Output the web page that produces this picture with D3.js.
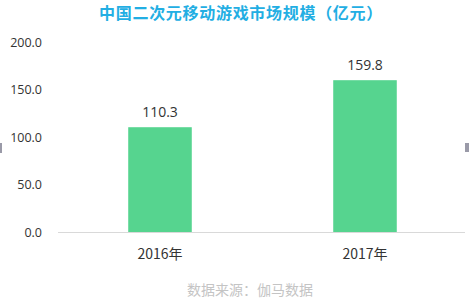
<!DOCTYPE html>
<html>
<head>
<meta charset="utf-8">
<script src="https://cdn.jsdelivr.net/npm/d3@7"></script>
<style>
  body { margin: 0; background: #fff; }
  text { font-family: "Noto Sans CJK SC", "Open Sans", sans-serif; }
</style>
</head>
<body>
<svg width="469" height="299"></svg>
<script>
const categories = ["2016年", "2017年"];
const values = [110.3, 159.8];
const yTicks = [0, 50, 100, 150, 200];

const svg = d3.select("svg");
const width = +svg.attr("width");

// scales
const x = d3.scaleBand()
    .domain(categories)
    .range([57.5, 467.5])
    .paddingInner(0.69)
    .paddingOuter(0.345);
const y = d3.scaleLinear().domain([0, 200]).range([232, 42]);

// title
svg.append("text")
    .attr("x", 241).attr("y", 19)
    .attr("text-anchor", "middle")
    .attr("font-size", 16).attr("font-weight", "bold")
    .attr("letter-spacing", 0.7)
    .attr("fill", "#22aee3")
    .text("中国二次元移动游戏市场规模（亿元）");

// y axis labels
const yAxis = d3.axisLeft(y).tickValues(yTicks).tickFormat(d3.format(".1f")).tickSize(0).tickPadding(0);
const gy = svg.append("g").attr("transform", "translate(42,0)").call(yAxis);
gy.select(".domain").remove();
gy.selectAll("text").attr("font-size", 12.5).attr("fill", "#333")
    .style("font-family", '"Open Sans", sans-serif');

// bars
svg.selectAll("rect.bar").data(values).enter().append("rect")
    .attr("class", "bar")
    .attr("x", (d, i) => x(categories[i]))
    .attr("y", d => y(d))
    .attr("width", x.bandwidth())
    .attr("height", d => y(0) - y(d))
    .attr("fill", "#56d48f");

// baseline
svg.append("line")
    .attr("x1", 58).attr("x2", 465)
    .attr("y1", y(0) + 0.5).attr("y2", y(0) + 0.5)
    .attr("stroke", "#d9d9d9");

// value labels
svg.selectAll("text.val").data(values).enter().append("text")
    .attr("class", "val")
    .attr("x", (d, i) => x(categories[i]) + x.bandwidth() / 2)
    .attr("y", d => y(d) - 10)
    .attr("text-anchor", "middle")
    .attr("font-size", 14).attr("fill", "#333")
    .style("font-family", '"Open Sans", sans-serif')
    .text(d => d.toFixed(1));

// x labels
const xAxis = d3.axisBottom(x).tickSize(0).tickPadding(0);
const gx = svg.append("g").attr("transform", "translate(0,249)").call(xAxis);
gx.select(".domain").remove();
gx.selectAll("text").attr("font-size", 14).attr("fill", "#333");

// source
svg.append("text")
    .attr("x", 250).attr("y", 295)
    .attr("text-anchor", "middle")
    .attr("font-size", 14).attr("fill", "#c4c4c4")
    .text("数据来源：伽马数据");

// edge marks
svg.append("rect").attr("x", 0).attr("y", 143).attr("width", 2).attr("height", 10).attr("fill", "#9a9aa8");
svg.append("rect").attr("x", 465).attr("y", 143).attr("width", 4).attr("height", 9).attr("fill", "#9a9aa8");
</script>
</body>
</html>
